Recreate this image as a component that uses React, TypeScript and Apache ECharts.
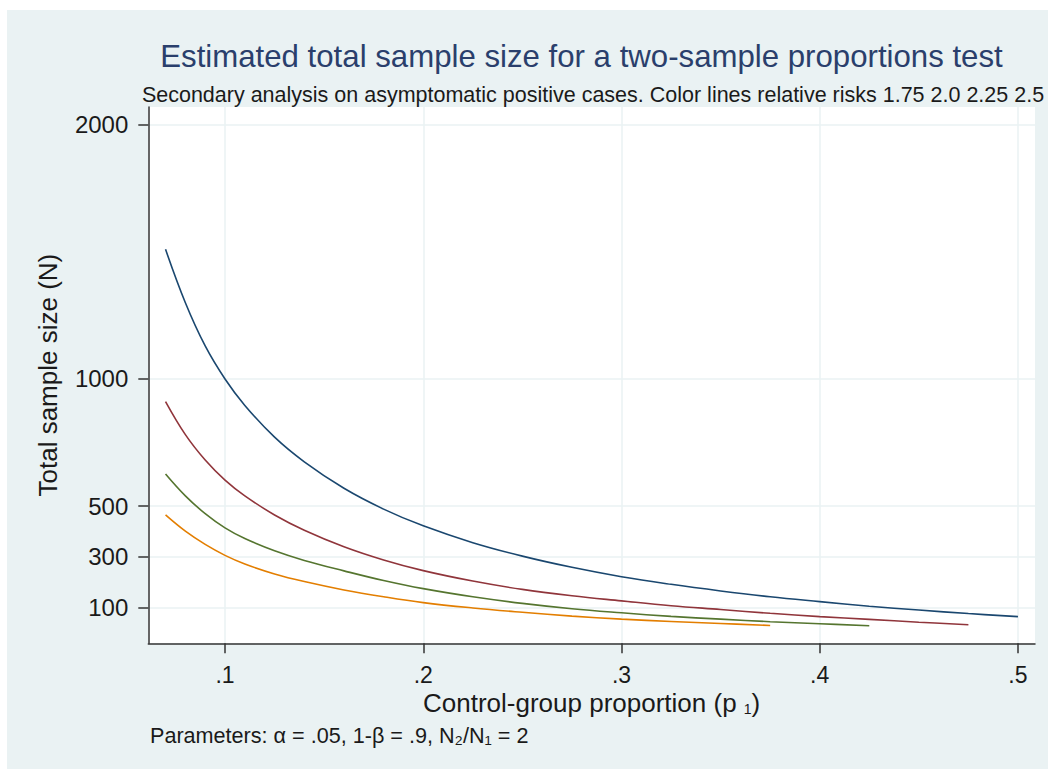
import React, { useEffect, useRef } from "react";
import * as echarts from "echarts";

// control-group proportion (p1) at which each curve is read
const pGrid = [
  0.07, 0.08, 0.09, 0.1, 0.11, 0.125, 0.14, 0.16, 0.18, 0.2, 0.225, 0.25, 0.275, 0.3, 0.325, 0.35,
  0.375, 0.4, 0.425, 0.45, 0.475, 0.5,
];
// total sample size N for each relative risk
const nRR175 = [1510, 1300, 1130, 1000, 896, 771, 674, 570, 488, 422, 356, 303, 259, 222, 192, 166, 143, 124, 106, 91, 77, 65];
const nRR200 = [911, 781, 681, 602, 540, 465, 405, 340, 288, 246, 205, 172, 147, 127, 108, 93, 78, 65, 54, 43, 33];
const nRR225 = [626, 540, 470, 414, 372, 324, 286, 245, 207, 175, 143, 117, 96, 80, 66, 55, 45, 37, 29];
const nRR250 = [465, 401, 349, 306, 272, 233, 203, 170, 143, 120, 99, 82, 67, 55, 46, 38, 30];

const riskLabels = ["1.75", "2.0", "2.25", "2.5"];
const yTicks = [100, 300, 500, 1000, 2000];
const xTicks = [0.1, 0.2, 0.3, 0.4, 0.5];

const titleText = "Estimated total sample size for a two-sample proportions test";
const subtitleText =
  "Secondary analysis on asymptomatic positive cases. Color lines relative risks 1.75 2.0 2.25 2.5";
const noteText = "Parameters: α = .05, 1-β = .9, N₂/N₁ = 2";

const FONT = "'Liberation Sans', Arial, Helvetica, sans-serif";

export default function App() {
  const ref = useRef<HTMLDivElement>(null);

  useEffect(() => {
    if (!ref.current) return;
    const chart = echarts.init(ref.current, undefined, { renderer: "svg" });
    const pair = (ys: number[]) => ys.map((y, i) => [pGrid[i], y]);
    const colors = ["#1a476f", "#90353b", "#55752f", "#e37e00"];
    const datasets = [pair(nRR175), pair(nRR200), pair(nRR225), pair(nRR250)];
    chart.setOption({
      animation: false,
      backgroundColor: "transparent",
      textStyle: { fontFamily: FONT },
      grid: {
        left: 141.3,
        right: 13,
        top: 97,
        bottom: 125.7,
        show: true,
        backgroundColor: "#ffffff",
        borderWidth: 0,
      },
      xAxis: {
        type: "value",
        min: 0.0613,
        max: 0.5086,
        name: "Control-group proportion (p {sub|1})",
        nameLocation: "middle",
        nameGap: 47,
        nameMoveOverlap: false,
        nameTextStyle: {
          fontSize: 26,
          color: "#1a1a1a",
          fontFamily: FONT,
          rich: { sub: { fontSize: 14, verticalAlign: "bottom", fontFamily: FONT, color: "#1a1a1a" } },
        },
        axisLine: { show: true, onZero: false, lineStyle: { color: "#333", width: 1.5 } },
        axisTick: { show: true, length: 10, customValues: xTicks, lineStyle: { color: "#333", width: 1.5 } },
        axisLabel: {
          customValues: xTicks,
          margin: 20,
          fontSize: 23,
          color: "#1a1a1a",
          fontFamily: FONT,
          formatter: (v: number) => String(Number(v.toFixed(3))).replace(/^0/, ""),
        },
        splitLine: { show: true, lineStyle: { color: "#eaf2f3", width: 1.5 } },
      },
      yAxis: {
        type: "value",
        min: -40,
        max: 2070,
        name: "Total sample size (N)",
        nameLocation: "middle",
        nameGap: 87,
        nameMoveOverlap: false,
        nameTextStyle: { fontSize: 26, color: "#1a1a1a", fontFamily: FONT },
        axisLine: { show: true, lineStyle: { color: "#333", width: 1.5 } },
        axisTick: { show: true, length: 10, customValues: yTicks, lineStyle: { color: "#333", width: 1.5 } },
        axisLabel: {
          customValues: yTicks,
          margin: 20,
          fontSize: 24,
          color: "#1a1a1a",
          fontFamily: FONT,
          formatter: (v: number) => String(v),
        },
        splitLine: { show: true, lineStyle: { color: "#eaf2f3", width: 1.5 } },
      },
      series: datasets.map((d, i) => ({
        type: "line",
        name: "RR " + riskLabels[i],
        data: d,
        smooth: 0.4,
        showSymbol: false,
        symbol: "none",
        lineStyle: { color: colors[i], width: 1.6 },
        itemStyle: { color: colors[i] },
      })),
      graphic: [
        {
          type: "text",
          x: 574.5,
          y: 46.6,
          style: {
            text: titleText,
            fontSize: 31.2,
            fontFamily: FONT,
            fill: "#2a3f6c",
            textAlign: "center",
            textVerticalAlign: "middle",
          },
        },
        {
          type: "text",
          x: 586,
          y: 84.5,
          style: {
            text: subtitleText,
            fontSize: 21.5,
            fontFamily: FONT,
            fill: "#1a1a1a",
            textAlign: "center",
            textVerticalAlign: "middle",
          },
        },
        {
          type: "text",
          x: 143,
          y: 725,
          style: {
            text: noteText,
            fontSize: 21.6,
            fontFamily: FONT,
            fill: "#1a1a1a",
            textAlign: "left",
            textVerticalAlign: "middle",
          },
        },
      ],
    });
    return () => chart.dispose();
  }, []);

  return (
    <div style={{ position: "absolute", left: 0, top: 0, width: 1048, height: 769, background: "#ffffff" }}>
      <div
        style={{ position: "absolute", left: 7, top: 10, width: 1041, height: 759, background: "#eaf2f3" }}
      >
        <div ref={ref} style={{ width: 1041, height: 759 }} />
      </div>
    </div>
  );
}
